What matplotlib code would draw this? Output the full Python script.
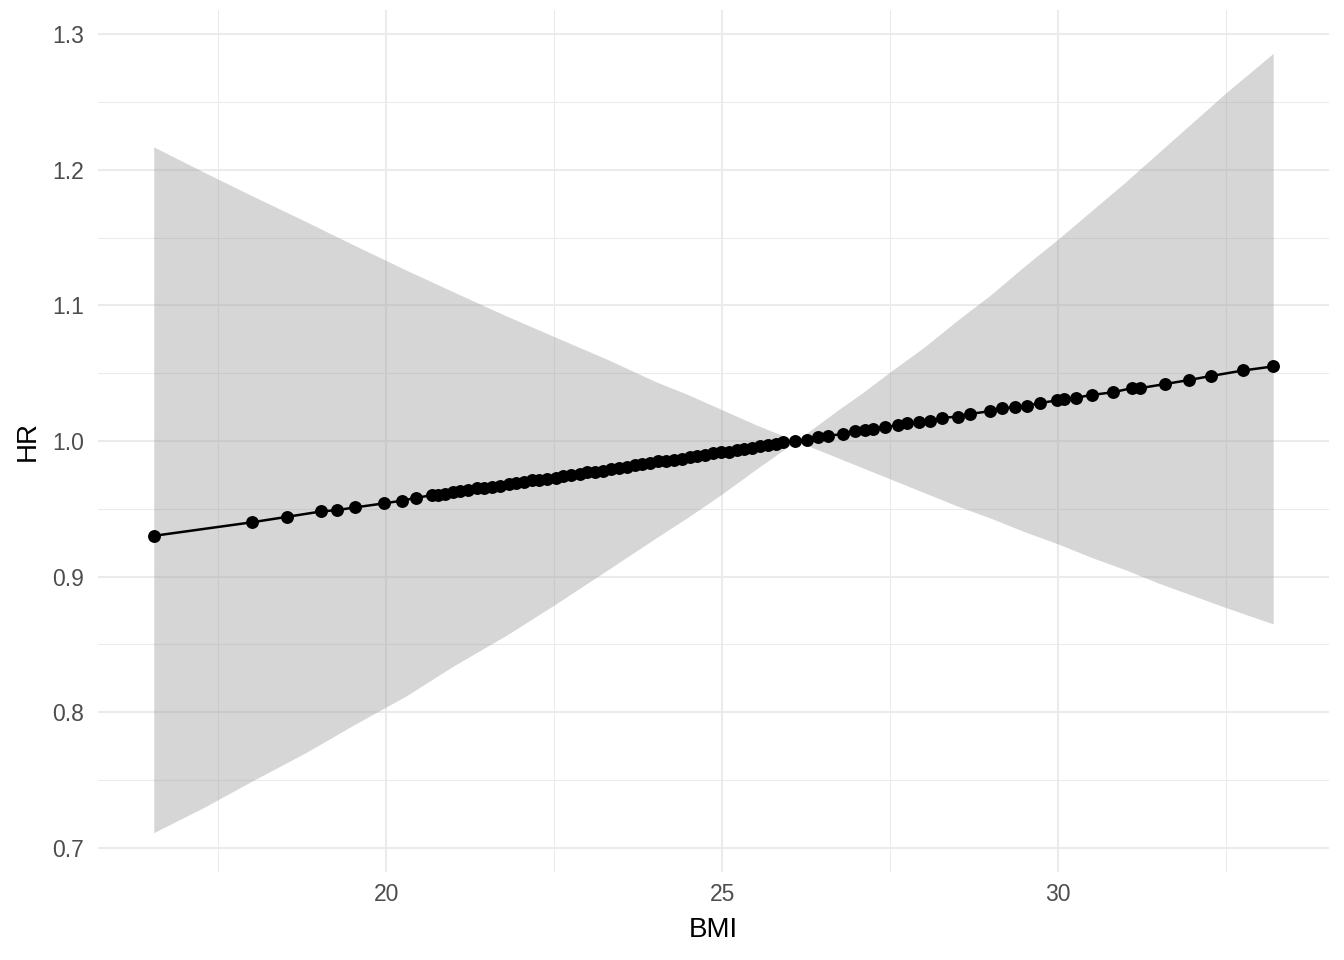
# BMI vs HR with confidence ribbon (ggplot theme_minimal look)
import numpy as np
import matplotlib.pyplot as plt

plt.rcParams['font.family'] = ['Liberation Sans', 'DejaVu Sans']

# Points on the curve
bmi = [16.54, 18.00, 18.52, 19.03, 19.27, 19.54, 19.97, 20.24, 20.44, 20.68, 20.77, 20.88,
       21.00, 21.10, 21.22, 21.35, 21.46, 21.58, 21.70, 21.82, 21.93, 22.05, 22.17, 22.28,
       22.40, 22.52, 22.63, 22.75, 22.88, 22.99, 23.10, 23.23, 23.34, 23.46, 23.58, 23.70,
       23.81, 23.93, 24.05, 24.16, 24.28, 24.40, 24.52, 24.63, 24.75, 24.87, 24.98, 25.10,
       25.22, 25.33, 25.45, 25.57, 25.68, 25.80,
       25.91, 26.09, 26.26, 26.43, 26.58, 26.80, 26.98, 27.13, 27.25, 27.43, 27.62, 27.75,
       27.93, 28.10, 28.27, 28.51, 28.69, 28.99,
       29.17, 29.36, 29.54, 29.73, 29.99, 30.09, 30.27, 30.51, 30.82, 31.10, 31.22, 31.59,
       31.95, 32.28, 32.75, 33.20]
hr = [0.930, 0.940, 0.944, 0.948, 0.949, 0.951, 0.954, 0.956, 0.958, 0.960, 0.960, 0.961,
      0.962, 0.963, 0.964, 0.965, 0.965, 0.966, 0.967, 0.968, 0.969, 0.970, 0.971, 0.971,
      0.972, 0.973, 0.974, 0.975, 0.976, 0.977, 0.977, 0.978, 0.979, 0.980, 0.981, 0.982,
      0.983, 0.984, 0.985, 0.985, 0.986, 0.987, 0.988, 0.989, 0.990, 0.991, 0.992, 0.992,
      0.993, 0.994, 0.995, 0.996, 0.997, 0.998,
      0.999, 1.000, 1.001, 1.003, 1.004, 1.005, 1.007, 1.008, 1.009, 1.010, 1.012, 1.013,
      1.014, 1.015, 1.017, 1.018, 1.020, 1.022,
      1.024, 1.025, 1.026, 1.028, 1.030, 1.031, 1.032, 1.034, 1.036, 1.039, 1.039, 1.042,
      1.045, 1.048, 1.052, 1.055]

# Confidence band
band_bmi = [16.54, 17.3, 18.0, 18.8, 19.5, 20.3, 21.0, 21.8, 22.5, 23.3, 24.0, 24.5, 25.0,
            25.5, 26.1, 26.7, 27.1, 27.5, 28.0, 28.5, 29.0, 29.5, 30.0, 30.5, 31.0, 31.5,
            32.0, 32.5, 33.2]
band_lower = [0.711, 0.730, 0.749, 0.770, 0.790, 0.812, 0.834, 0.857, 0.879, 0.905, 0.928,
              0.944, 0.961, 0.979, 1.000, 0.988, 0.980, 0.972, 0.962, 0.952, 0.943, 0.933,
              0.924, 0.914, 0.905, 0.895, 0.886, 0.877, 0.865]
band_upper = [1.217, 1.198, 1.181, 1.162, 1.145, 1.126, 1.110, 1.092, 1.077, 1.060, 1.044,
              1.034, 1.023, 1.012, 1.000, 1.022, 1.036, 1.051, 1.069, 1.089, 1.108, 1.129,
              1.149, 1.170, 1.191, 1.213, 1.235, 1.257, 1.286]

fig = plt.figure(figsize=(13.44, 9.6), dpi=100)
ax = fig.add_axes([0.0729, 0.0917, 0.9159, 0.8979])

ax.fill_between(band_bmi, band_lower, band_upper, color='#999999', alpha=0.4, lw=0, zorder=2)
ax.plot(bmi, hr, color='black', lw=1.8, zorder=3)
ax.plot(bmi, hr, 'o', color='black', ms=9.3, mec='none', zorder=4)

ax.set_xlim(15.71, 34.03)
ax.set_ylim(0.682, 1.318)
ax.set_xticks([20, 25, 30])
ax.set_xticks([17.5, 22.5, 27.5, 32.5], minor=True)
ax.set_yticks([0.7, 0.8, 0.9, 1.0, 1.1, 1.2, 1.3])
ax.set_yticks([0.75, 0.85, 0.95, 1.05, 1.15, 1.25], minor=True)
ax.set_yticklabels(['0.7', '0.8', '0.9', '1.0', '1.1', '1.2', '1.3'])

ax.grid(True, which='major', color='#EBEBEB', lw=1.5, zorder=0)
ax.grid(True, which='minor', color='#EBEBEB', lw=0.75, zorder=0)
ax.set_axisbelow(True)
for s in ax.spines.values():
    s.set_visible(False)
ax.tick_params(which='both', length=0, labelsize=16.5, labelcolor='#4D4D4D')
ax.tick_params(axis='y', pad=10)
ax.tick_params(axis='x', pad=8)

ax.set_xlabel('BMI', fontsize=20, labelpad=8)
ax.set_ylabel('HR', fontsize=20, labelpad=8)

fig.savefig('out.png', dpi=100)
